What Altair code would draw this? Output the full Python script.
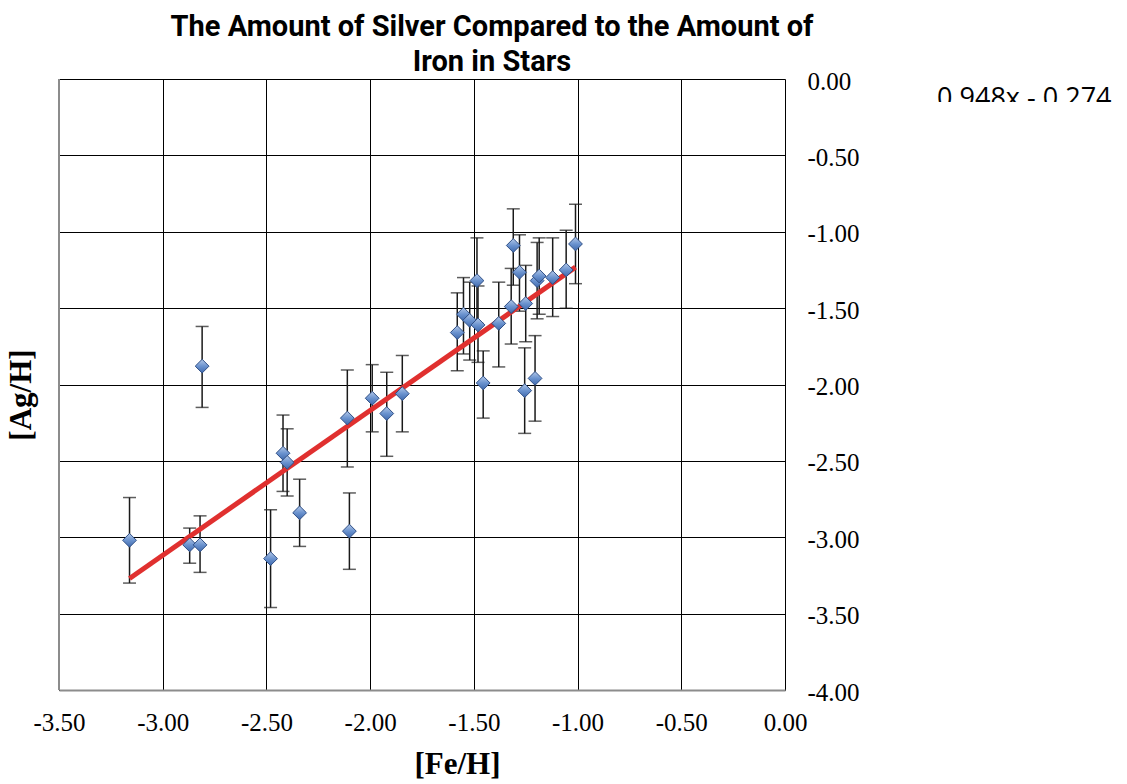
import altair as alt
import pandas as pd

# [Fe/H] and [Ag/H] for each star, with the lower/upper ends of the [Ag/H] error bar
fe_h = [-3.16, -2.87, -2.82, -2.81, -2.48, -2.42, -2.40, -2.34, -2.11, -2.10,
        -1.99, -1.92, -1.845, -1.58, -1.55, -1.52, -1.485, -1.48, -1.455, -1.38,
        -1.32, -1.31, -1.28, -1.25, -1.255, -1.205, -1.195, -1.185, -1.12, -1.055,
        -1.01]
ag_h = [-3.02, -3.05, -3.05, -1.88, -3.14, -2.45, -2.51, -2.84, -2.22, -2.96,
        -2.09, -2.19, -2.06, -1.66, -1.54, -1.58, -1.32, -1.61, -1.99, -1.60,
        -1.49, -1.09, -1.265, -1.47, -2.04, -1.96, -1.32, -1.29, -1.30, -1.25,
        -1.08]
ag_lo = [-3.30, -3.17, -3.23, -2.15, -3.46, -2.70, -2.73, -3.06, -2.54, -3.21,
         -2.31, -2.47, -2.31, -1.91, -1.80, -1.84, -1.60, -1.855, -2.22, -1.885,
         -1.735, -1.35, -1.52, -1.72, -2.32, -2.24, -1.57, -1.54, -1.555, -1.50,
         -1.34]
ag_hi = [-2.74, -2.94, -2.86, -1.62, -2.82, -2.20, -2.29, -2.62, -1.905, -2.71,
         -1.87, -1.92, -1.81, -1.40, -1.30, -1.33, -1.04, -1.355, -1.78, -1.33,
         -1.24, -0.85, -1.02, -1.22, -1.76, -1.68, -1.07, -1.04, -1.04, -0.99,
         -0.82]

# linear trend: [Ag/H] = slope * [Fe/H] + intercept
slope = 0.948
intercept = -0.274
equation_label = "0.948x - 0.274"

title_lines = ["The Amount of Silver Compared to the Amount of", "Iron in Stars"]
x_title = "[Fe/H]"
y_title = "[Ag/H]"
x_ticks = [-3.5, -3.0, -2.5, -2.0, -1.5, -1.0, -0.5, 0.0]
y_ticks = [0.0, -0.5, -1.0, -1.5, -2.0, -2.5, -3.0, -3.5, -4.0]

stars = pd.DataFrame({"fe": fe_h, "ag": ag_h, "lo": ag_lo, "hi": ag_hi})
trend = pd.DataFrame({"fe": [min(fe_h), max(fe_h)]})
trend["ag"] = slope * trend["fe"] + intercept

W, H = 726, 611
SERIF = "Liberation Serif"
TITLE_FONT = "Roboto, Open Sans"
label_expr = "(datum.value < 0 ? '-' : '') + format(abs(datum.value), '.2f')"

x_scale = alt.Scale(domain=[-3.5, 0.0], nice=False, zero=False)
y_scale = alt.Scale(domain=[-4.0, 0.0], nice=False, zero=False)

x_enc = alt.X(
    "fe:Q", scale=x_scale,
    axis=alt.Axis(
        values=x_ticks, labelExpr=label_expr, title=x_title,
        labelFont=SERIF, labelFontSize=25, labelColor="#000", labelPadding=20,
        labelFlush=False, labelOverlap=False,
        ticks=False, domainColor="#8c8c8c", domainWidth=2,
        grid=True, gridColor="#000", gridWidth=1, gridOpacity=1,
        titleFont=SERIF, titleFontSize=31, titleFontWeight="bold", titleColor="#000",
        titleX=398, titleY=74, titleBaseline="middle",
    ),
)
y_enc = alt.Y(
    "ag:Q", scale=y_scale,
    axis=alt.Axis(
        orient="right", values=y_ticks, labelExpr=label_expr, title=None,
        labelFont=SERIF, labelFontSize=25, labelColor="#000", labelPadding=22,
        labelAlign="left", labelBaseline="middle", labelOffset=2,
        labelFlush=False, labelOverlap=False,
        ticks=False, domain=False,
        grid=True, gridColor="#000", gridWidth=1, gridOpacity=1,
    ),
)

# left frame edge, drawn in grey like the bottom axis line
left_edge = alt.Chart(pd.DataFrame({"fe": [-3.5]})).mark_rule(
    color="#8c8c8c", strokeWidth=2
).encode(x=alt.X("fe:Q", scale=x_scale))

base = alt.Chart(stars)

bars = base.mark_rule(color="#1a1a1a", strokeWidth=1.5).encode(
    x=x_enc, y=alt.Y("lo:Q", scale=y_scale), y2="hi:Q"
)
caps_lo = base.mark_tick(color="#1a1a1a", orient="horizontal", size=13, thickness=1.5).encode(
    x=alt.X("fe:Q", scale=x_scale), y=alt.Y("lo:Q", scale=y_scale)
)
caps_hi = base.mark_tick(color="#1a1a1a", orient="horizontal", size=13, thickness=1.5).encode(
    x=alt.X("fe:Q", scale=x_scale), y=alt.Y("hi:Q", scale=y_scale)
)

trend_line = alt.Chart(trend).mark_line(color="#e0302f", strokeWidth=5).encode(
    x=alt.X("fe:Q", scale=x_scale), y=alt.Y("ag:Q", scale=y_scale)
)

diamond_fill = {
    "gradient": "linear", "x1": 0, "y1": 0, "x2": 0, "y2": 1,
    "stops": [
        {"offset": 0, "color": "#b3c8e8"},
        {"offset": 0.5, "color": "#6b93cf"},
        {"offset": 1, "color": "#3f69ad"},
    ],
}
points = base.mark_point(
    shape="diamond", size=190, filled=True, fill=diamond_fill, fillOpacity=1,
    stroke="#2f4f86", strokeWidth=1, opacity=1,
).encode(x=alt.X("fe:Q", scale=x_scale), y=y_enc)

one_row = pd.DataFrame({"k": [0]})

y_label = alt.Chart(one_row).mark_text(
    text=y_title, font=SERIF, fontSize=31, fontWeight="bold", angle=270,
    align="center", baseline="middle", color="#000",
).encode(x=alt.value(-37), y=alt.value(316))

eq_text = alt.Chart(one_row).mark_text(
    text=equation_label, font="Open Sans", fontSize=27, align="left",
    baseline="alphabetic", color="#000",
).encode(x=alt.value(878), y=alt.value(28))

# the equation box cuts off the lower part of its text
eq_clip = alt.Chart(one_row).mark_rect(color="#ffffff").encode(
    x=alt.value(870), x2=alt.value(1068), y=alt.value(23), y2=alt.value(40)
)

chart = alt.layer(
    bars, caps_lo, caps_hi, trend_line, points, left_edge, y_label, eq_text, eq_clip
).properties(
    width=W, height=H,
    autosize=alt.AutoSizeParams(type="none"),
    padding={"left": 59, "top": 79, "right": 342, "bottom": 94},
    title=alt.TitleParams(
        text=title_lines, font=TITLE_FONT, fontSize=29, fontWeight="bold",
        color="#000", anchor="middle", dx=70, offset=-8, lineHeight=35,
    ),
).configure_view(
    stroke="#000", strokeWidth=1
).configure(background="#ffffff")

chart.save("out.html", embed_options={"renderer": "svg", "actions": False})
